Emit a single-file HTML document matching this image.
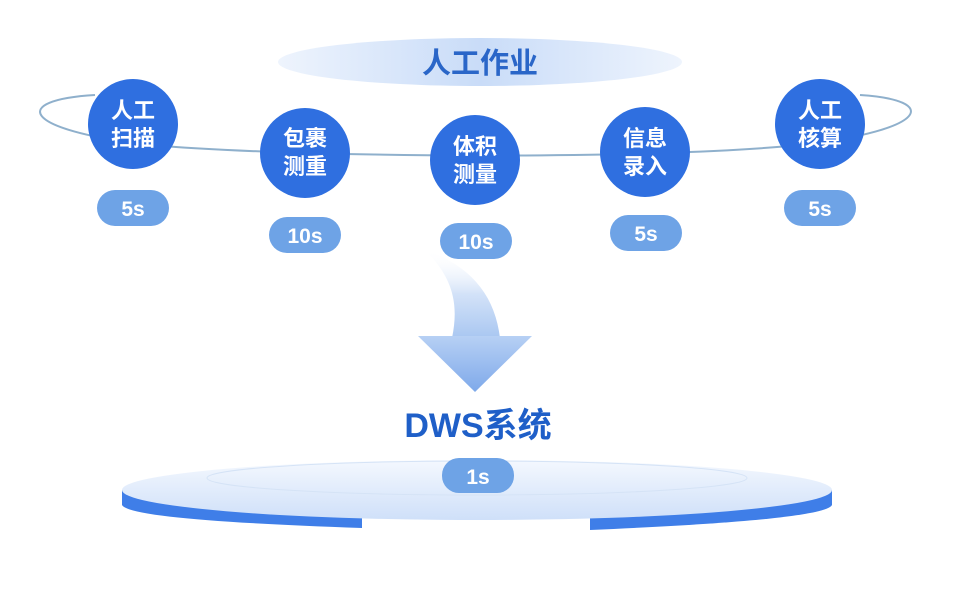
<!DOCTYPE html>
<html><head><meta charset="utf-8"><style>
html,body{margin:0;padding:0;background:#fff;}
svg{display:block;}
text{font-family:"Liberation Sans","Noto Sans CJK SC",sans-serif;font-weight:bold;}
</style></head><body>
<svg width="969" height="590" viewBox="0 0 969 590" xmlns="http://www.w3.org/2000/svg">
<defs>
<linearGradient id="tg" x1="0" y1="0" x2="1" y2="0">
<stop offset="0" stop-color="#eef4fd"/><stop offset="0.5" stop-color="#c9dcf8"/><stop offset="1" stop-color="#eef4fd"/>
</linearGradient>
<linearGradient id="ag" x1="0" y1="0" x2="0" y2="1">
<stop offset="0" stop-color="#ffffff" stop-opacity="0"/><stop offset="0.5" stop-color="#d3e2f8"/><stop offset="1" stop-color="#a9c7f1"/>
</linearGradient>
<linearGradient id="tri" x1="0" y1="0" x2="0" y2="1">
<stop offset="0" stop-color="#b7d0f4"/><stop offset="1" stop-color="#7ea9ea"/>
</linearGradient>
<linearGradient id="pg" x1="0" y1="0" x2="0" y2="1">
<stop offset="0" stop-color="#f4f8fe"/><stop offset="1" stop-color="#cfe0f9"/>
</linearGradient>
</defs>
<ellipse cx="480" cy="62" rx="202" ry="24" fill="url(#tg)"/>
<text x="480" y="73" font-size="29" fill="#2a66c8" text-anchor="middle">人工作业</text>
<path d="M 95 95 C 10 100, 20 130, 150 145 C 300 158, 650 160, 800 145 C 930 130, 940 100, 860 95" fill="none" stroke="#8fb0cc" stroke-width="2"/>
<path d="M 425 250 C 450 275, 460 300, 452 338 L 500 338 C 495 295, 470 265, 425 250 Z" fill="url(#ag)"/>
<polygon points="418,336 532,336 475,392" fill="url(#tri)"/>
<path d="M 122 490 L 122 505 Q 130 520 362 528 L 362 518 Z" fill="#3f7ee8"/>
<path d="M 832 490 L 832 505 Q 825 520 590 530 L 590 518 Z" fill="#3f7ee8"/>
<ellipse cx="477" cy="490" rx="355" ry="30" fill="url(#pg)"/>
<ellipse cx="477" cy="478" rx="270" ry="17" fill="none" stroke="#d5e3f6" stroke-width="1"/>
<text x="478" y="437" font-size="34" fill="#1f5fc8" text-anchor="middle">DWS系统</text>
<rect x="442" y="458" width="72" height="35" rx="17" fill="#6ea3e6"/>
<text x="478" y="484" font-size="21" fill="#fff" text-anchor="middle">1s</text>
<g font-size="22" fill="#fff" text-anchor="middle">
<circle cx="133" cy="124" r="45" fill="#2f6fe0"/>
<text x="133" y="118">人工</text><text x="133" y="146">扫描</text>
<circle cx="305" cy="153" r="45" fill="#2f6fe0"/>
<text x="305" y="146">包裹</text><text x="305" y="174">测重</text>
<circle cx="475" cy="160" r="45" fill="#2f6fe0"/>
<text x="475" y="154">体积</text><text x="475" y="182">测量</text>
<circle cx="645" cy="152" r="45" fill="#2f6fe0"/>
<text x="645" y="146">信息</text><text x="645" y="174">录入</text>
<circle cx="820" cy="124" r="45" fill="#2f6fe0"/>
<text x="820" y="118">人工</text><text x="820" y="146">核算</text>
</g>
<g fill="#6ea3e6">
<rect x="97" y="190" width="72" height="36" rx="18"/>
<rect x="269" y="217" width="72" height="36" rx="18"/>
<rect x="440" y="223" width="72" height="36" rx="18"/>
<rect x="610" y="215" width="72" height="36" rx="18"/>
<rect x="784" y="190" width="72" height="36" rx="18"/>
</g>
<g font-size="21" fill="#fff" text-anchor="middle">
<text x="133" y="216">5s</text>
<text x="305" y="243">10s</text>
<text x="476" y="249">10s</text>
<text x="646" y="241">5s</text>
<text x="820" y="216">5s</text>
</g>
</svg>
</body></html>
